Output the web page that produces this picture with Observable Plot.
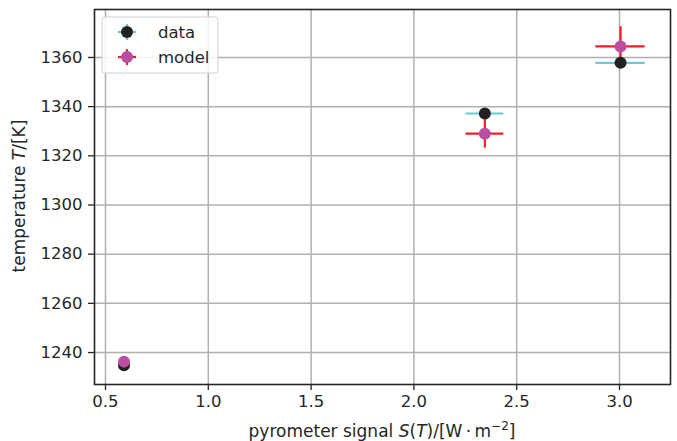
<!DOCTYPE html>
<html>
<head>
<meta charset="utf-8">
<script src="https://cdn.jsdelivr.net/npm/d3@7"></script>
<script src="https://cdn.jsdelivr.net/npm/@observablehq/plot@0.6"></script>
<style>
  html, body { margin: 0; padding: 0; background: white; }
</style>
</head>
<body>
<div id="chart"></div>
<script>
// ---- data ----
const seriesNames = ["data", "model"];
const signal = [0.59, 2.345, 3.005];           // S(T) in W·m^-2
const dataT = [1234.8, 1337.2, 1357.8];        // measured temperature, K
const dataSignalErr = [0.0, 0.092, 0.12];
const dataTErr = [0.5, 1.5, 1.5];
const modelT = [1236.3, 1329.0, 1364.5];       // model temperature, K
const modelSignalErr = [0.0, 0.092, 0.12];
const modelTErr = [0.5, 5.9, 8.0];
const xTicks = [0.5, 1.0, 1.5, 2.0, 2.5, 3.0];
const yTicks = [1240, 1260, 1280, 1300, 1320, 1340, 1360];

const colors = {
  dataBar: "#6cc7d8",
  dataDot: "#222222",
  modelBar: "#ee2026",
  modelDot: "#b94fa3"
};

const dataRows = signal.map((s, i) => ({s, T: dataT[i], se: dataSignalErr[i], te: dataTErr[i]}));
const modelRows = signal.map((s, i) => ({s, T: modelT[i], se: modelSignalErr[i], te: modelTErr[i]}));

const ink = "#262626";
const font = "DejaVu Sans, sans-serif";
const tickFs = 16.5;
const labelFs = 17;

const chart = Plot.plot({
  width: 677,
  height: 441,
  marginLeft: 94,
  marginRight: 7,
  marginTop: 9,
  marginBottom: 57,
  style: {fontFamily: font, fontSize: tickFs + "px", color: ink, background: "white"},
  x: {domain: [0.4465, 3.248], label: null},
  y: {domain: [1227, 1379.5], label: null},
  marks: [
    Plot.gridX(xTicks, {stroke: "#b0b0b0", strokeOpacity: 1, strokeWidth: 1.5}),
    Plot.gridY(yTicks, {stroke: "#b0b0b0", strokeOpacity: 1, strokeWidth: 1.5}),
    Plot.axisX(xTicks, {tickSize: 6, tickPadding: 5, tickFormat: d3.format(".1f"), stroke: ink, strokeWidth: 1.3, fill: ink, label: null, fontSize: tickFs}),
    Plot.axisY(yTicks, {tickSize: 6, tickPadding: 6, tickFormat: d => String(d), stroke: ink, strokeWidth: 1.3, fill: ink, label: null, fontSize: tickFs}),
    // error bars
    Plot.ruleY(dataRows, {y: "T", x1: d => d.s - d.se, x2: d => d.s + d.se, stroke: colors.dataBar, strokeWidth: 2.2}),
    Plot.ruleX(dataRows, {x: "s", y1: d => d.T - d.te, y2: d => d.T + d.te, stroke: colors.dataBar, strokeWidth: 2.2}),
    Plot.ruleY(modelRows, {y: "T", x1: d => d.s - d.se, x2: d => d.s + d.se, stroke: colors.modelBar, strokeWidth: 2.2}),
    Plot.ruleX(modelRows, {x: "s", y1: d => d.T - d.te, y2: d => d.T + d.te, stroke: colors.modelBar, strokeWidth: 2.2}),
    // markers
    Plot.dot(dataRows, {x: "s", y: "T", r: 6, fill: colors.dataDot}),
    Plot.dot(modelRows, {x: "s", y: "T", r: 6, fill: colors.modelDot}),
    Plot.frame({stroke: ink, strokeWidth: 1.6})
  ]
});

document.getElementById("chart").appendChild(chart);

const svg = d3.select(chart);

// axis labels with italic math symbols
const xl = svg.append("text")
  .attr("x", 382).attr("y", 437)
  .attr("text-anchor", "middle")
  .attr("font-family", font).attr("font-size", labelFs).attr("fill", ink);
xl.append("tspan").text("pyrometer signal ");
xl.append("tspan").attr("font-style", "italic").text("S");
xl.append("tspan").text("(");
xl.append("tspan").attr("font-style", "italic").text("T");
xl.append("tspan").text(")/[W\u2009\u00B7\u2009m");
xl.append("tspan").attr("dy", -7).attr("font-size", 12).text("\u22122");
xl.append("tspan").attr("dy", 7).text("]");

const yl = svg.append("text")
  .attr("transform", "translate(25,196) rotate(-90)")
  .attr("text-anchor", "middle")
  .attr("font-family", font).attr("font-size", labelFs).attr("fill", ink);
yl.append("tspan").text("temperature ");
yl.append("tspan").attr("font-style", "italic").text("T");
yl.append("tspan").text("/[K]");

// legend
const lg = svg.append("g");
lg.append("rect")
  .attr("x", 102).attr("y", 17).attr("width", 116).attr("height", 56).attr("rx", 3)
  .attr("fill", "white").attr("fill-opacity", 0.85)
  .attr("stroke", "#d0d0d0").attr("stroke-width", 1);
const entries = [
  {name: seriesNames[0], bar: colors.dataBar, dot: colors.dataDot, y: 32},
  {name: seriesNames[1], bar: colors.modelBar, dot: colors.modelDot, y: 57}
];
entries.forEach(e => {
  const cx = 127;
  lg.append("line").attr("x1", cx - 9).attr("x2", cx + 9).attr("y1", e.y).attr("y2", e.y)
    .attr("stroke", e.bar).attr("stroke-width", 2.2);
  lg.append("line").attr("x1", cx).attr("x2", cx).attr("y1", e.y - 8).attr("y2", e.y + 8)
    .attr("stroke", e.bar).attr("stroke-width", 2.2);
  lg.append("circle").attr("cx", cx).attr("cy", e.y).attr("r", 6).attr("fill", e.dot);
  lg.append("text").attr("x", 158).attr("y", e.y).attr("dy", "0.36em")
    .attr("text-anchor", "start")
    .attr("font-family", font).attr("font-size", tickFs).attr("fill", ink).text(e.name);
});
</script>
</body>
</html>
